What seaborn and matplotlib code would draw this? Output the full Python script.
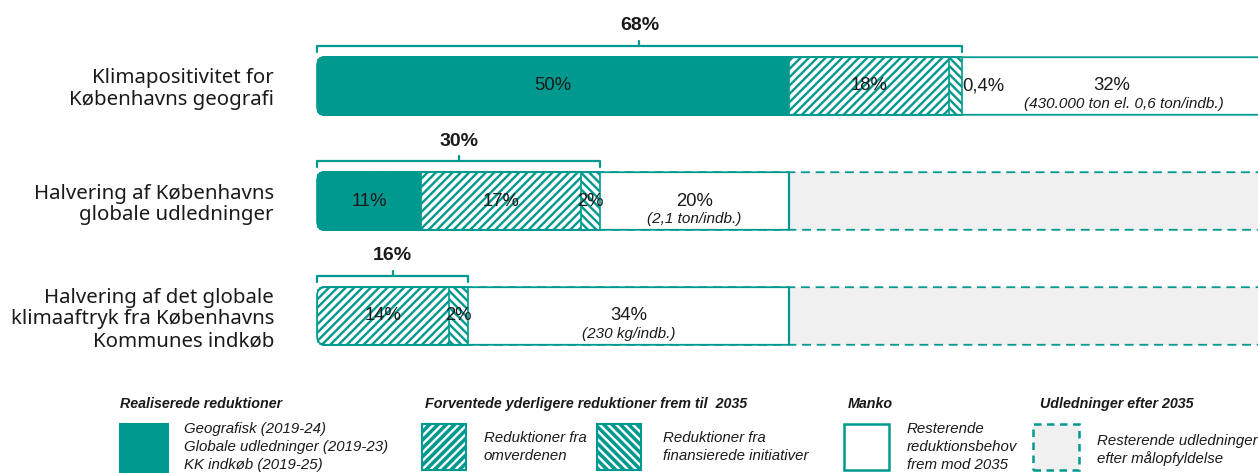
import numpy as np
import pandas as pd
import matplotlib
matplotlib.use("Agg")
import matplotlib.pyplot as plt
import seaborn as sns
from matplotlib.patches import FancyBboxPatch, Rectangle
from matplotlib import font_manager as fm

# ---------------- data ----------------
categories = ["Klimapositivitet for\nKøbenhavns geografi",
              "Halvering af Københavns\nglobale udledninger",
              "Halvering af det globale\nklimaaftryk fra Københavns\nKommunes indkøb"]
realiserede = [50, 11, 0]
omverdenen = [17, 17, 14]
finansierede = [1.3, 2, 2]
manko = [31.7, 20, 34]
efter_2035 = [0, 50, 50]
bracket_end = [68.3, 30, 16]

lbl_realiserede = ["50%", "11%", ""]
lbl_omverdenen = ["18%", "17%", "14%"]
lbl_finansierede = ["0,4%", "2%", "2%"]
lbl_manko = ["32%", "20%", "34%"]
manko_notes = ["(430.000 ton el. 0,6 ton/indb.)", "(2,1 ton/indb.)", "(230 kg/indb.)"]
total_labels = ["68%", "30%", "16%"]

legend_titles = ["Realiserede reduktioner",
                 "Forventede yderligere reduktioner frem til  2035",
                 "Manko", "Udledninger efter 2035"]
legend_texts = ["Geografisk (2019-24)\nGlobale udledninger (2019-23)\nKK indkøb (2019-25)",
                "Reduktioner fra\nomverdenen",
                "Reduktioner fra\nfinansierede initiativer",
                "Resterende\nreduktionsbehov\nfrem mod 2035",
                "Resterende udledninger\nefter målopfyldelse"]

# ---------------- style ----------------
TEAL = "#00998F"
GRAY = "#F0F0F0"
TXT = "#1a1a1a"

sns.set_theme(style="white")
avail = {f.name for f in fm.fontManager.ttflist}
NARROW = "Liberation Sans Narrow" if "Liberation Sans Narrow" in avail else "Liberation Sans"
CATF = "Noto Sans"
plt.rcParams["font.family"] = [NARROW, "DejaVu Sans"]
plt.rcParams["hatch.linewidth"] = 1.7

W, H = 1258, 473
fig = plt.figure(figsize=(W / 100, H / 100), dpi=100)
PX_PCT = 9.44
X0 = 317
ROW_TOP = 28.5  # px of top of axes
ROW_SP = 115
ax = fig.add_axes([X0 / W, 1 - (ROW_TOP + 3 * ROW_SP) / H, (W - X0) / W, 3 * ROW_SP / H])

df = pd.DataFrame({"kategori": categories,
                   "realiserede": realiserede,
                   "omverdenen": omverdenen,
                   "finansierede": finansierede,
                   "manko": manko,
                   "efter": efter_2035})
cols = ["realiserede", "omverdenen", "finansierede", "manko", "efter"]
cum = df[cols].cumsum(axis=1)
left = cum - df[cols]

styles = {
    "efter": dict(facecolor=GRAY, edgecolor=TEAL, hatch=None, lw=1.6, ls=(0, (4.0, 2.6))),
    "manko": dict(facecolor="white", edgecolor=TEAL, hatch=None, lw=1.6, ls="-"),
    "finansierede": dict(facecolor="white", edgecolor=TEAL, hatch="\\\\\\\\", lw=1.2, ls="-"),
    "omverdenen": dict(facecolor="white", edgecolor=TEAL, hatch="////", lw=1.2, ls="-"),
    "realiserede": dict(facecolor=TEAL, edgecolor=TEAL, hatch=None, lw=1.2, ls="-"),
}

bar_patches = []
for col in ["efter", "manko", "finansierede", "omverdenen", "realiserede"]:
    before = len(ax.patches)
    sns.barplot(x=cum[col], y=df["kategori"], order=categories, orient="h",
                width=0.5, color=TEAL, saturation=1, errorbar=None, ax=ax)
    st = styles[col]
    for i, p in enumerate(ax.patches[before:]):
        p.set_facecolor(st["facecolor"])
        p.set_edgecolor(st["edgecolor"])
        p.set_linewidth(st["lw"])
        p.set_linestyle(st["ls"])
        if st["hatch"]:
            p.set_hatch(st["hatch"])
        if df[col].iloc[i] <= 0:
            p.set_visible(False)
        bar_patches.append(p)

ax.set_xlim(0, (W - X0) / PX_PCT)
ax.set_ylim(2.5, -0.5)
ax.set_xlabel("")
ax.set_ylabel("")
ax.set_xticks([])
for s in ax.spines.values():
    s.set_visible(False)
ax.set_yticks(range(3))
ax.set_yticklabels(categories, fontsize=14.7, family=[CATF, "DejaVu Sans"], color=TXT,
                   linespacing=1.13)
ax.tick_params(axis="y", length=0, pad=31)

# rounded left corners
aspect = PX_PCT / ROW_SP
for p in bar_patches:
    yc = p.get_y() + p.get_height() / 2
    clip = FancyBboxPatch((-0.08, yc - 0.258), 104, 0.516,
                          boxstyle="round,pad=0,rounding_size=0.9",
                          mutation_aspect=aspect, transform=ax.transData)
    p.set_clip_path(clip)
for i in range(3):
    red_end = realiserede[i] + omverdenen[i] + finansierede[i]
    outline = FancyBboxPatch((0, i - 0.25), 104, 0.5,
                             boxstyle="round,pad=0,rounding_size=0.9",
                             mutation_aspect=aspect, transform=ax.transData,
                             fill=False, edgecolor=TEAL, lw=1.2, zorder=5)
    ax.add_patch(outline)
    outline.set_clip_path(Rectangle((-1, i - 0.4), red_end + 1, 0.8, transform=ax.transData))

# segment labels
FS = 13.3
for i in range(3):
    if lbl_realiserede[i]:
        ax.text(left.loc[i, "realiserede"] + realiserede[i] / 2, i, lbl_realiserede[i],
                ha="center", va="center", fontsize=FS, color=TXT, zorder=6)
    ax.text(left.loc[i, "omverdenen"] + omverdenen[i] / 2, i, lbl_omverdenen[i],
            ha="center", va="center", fontsize=FS, color=TXT, zorder=6)
    if finansierede[i] < 1.5:
        ax.text(cum.loc[i, "finansierede"] + 0.1, i, lbl_finansierede[i],
                ha="left", va="center", fontsize=FS, color=TXT, zorder=6)
    else:
        ax.text(left.loc[i, "finansierede"] + finansierede[i] / 2, i, lbl_finansierede[i],
                ha="center", va="center", fontsize=FS, color=TXT, zorder=6)
    mc = left.loc[i, "manko"] + manko[i] / 2
    ax.text(mc, i, lbl_manko[i], ha="center", va="center", fontsize=FS, color=TXT, zorder=6)
    nx = mc + (1.3 if i == 0 else 0)
    ax.text(nx, i + 18 / ROW_SP, manko_notes[i], ha="center", va="center",
            fontsize=11, style="italic", color=TXT, zorder=6)

    # bracket
    yb = i - 40 / ROW_SP
    yd = i - 34 / ROW_SP
    yu = i - 45 / ROW_SP
    e = bracket_end[i]
    ax.plot([0, 0, e, e], [yd, yb, yb, yd], color=TEAL, lw=1.6, clip_on=False,
            solid_joinstyle="round")
    ax.plot([e / 2, e / 2], [yb, yu], color=TEAL, lw=1.6, clip_on=False)
    ax.text(e / 2, i - 60 / ROW_SP, total_labels[i], ha="center", va="center",
            fontsize=14, fontweight="bold", color=TXT)

# ---------------- legend (figure px coordinates) ----------------
def fx(x):
    return x / W


def fy(y):
    return 1 - y / H


def box(x, y, w, h, **kw):
    r = Rectangle((fx(x), fy(y + h)), w / W, h / H, transform=fig.transFigure, **kw)
    fig.add_artist(r)


LFS = 10.3
for (x, t) in zip([120, 425, 848, 1040], legend_titles):
    fig.text(fx(x), fy(404), t, ha="left", va="center", fontsize=LFS,
             fontweight="bold", style="italic", color=TXT)

box(119, 423, 50, 56, facecolor=TEAL, edgecolor="none")
box(422, 424, 44, 46, facecolor=TEAL, edgecolor="white", hatch="////", lw=0)
box(422, 424, 44, 46, facecolor="none", edgecolor=TEAL, lw=1.5)
box(597, 424, 44, 46, facecolor=TEAL, edgecolor="white", hatch="\\\\\\\\", lw=0)
box(597, 424, 44, 46, facecolor="none", edgecolor=TEAL, lw=1.5)
box(844, 424, 45, 46, facecolor="white", edgecolor=TEAL, lw=1.8)
box(1033, 424, 46, 46, facecolor=GRAY, edgecolor=TEAL, lw=1.8, ls=(0, (3.0, 2.2)))

LT = 10.8
fig.text(fx(184), fy(447), legend_texts[0], ha="left", va="center", fontsize=LT,
         style="italic", color=TXT, linespacing=1.32)
fig.text(fx(484), fy(447), legend_texts[1], ha="left", va="center", fontsize=LT,
         style="italic", color=TXT, linespacing=1.32)
fig.text(fx(663), fy(447), legend_texts[2], ha="left", va="center", fontsize=LT,
         style="italic", color=TXT, linespacing=1.32)
fig.text(fx(907), fy(447), legend_texts[3], ha="left", va="center", fontsize=LT,
         style="italic", color=TXT, linespacing=1.32)
fig.text(fx(1097), fy(450), legend_texts[4], ha="left", va="center", fontsize=LT,
         style="italic", color=TXT, linespacing=1.32)

fig.savefig("out.png", dpi=100)
